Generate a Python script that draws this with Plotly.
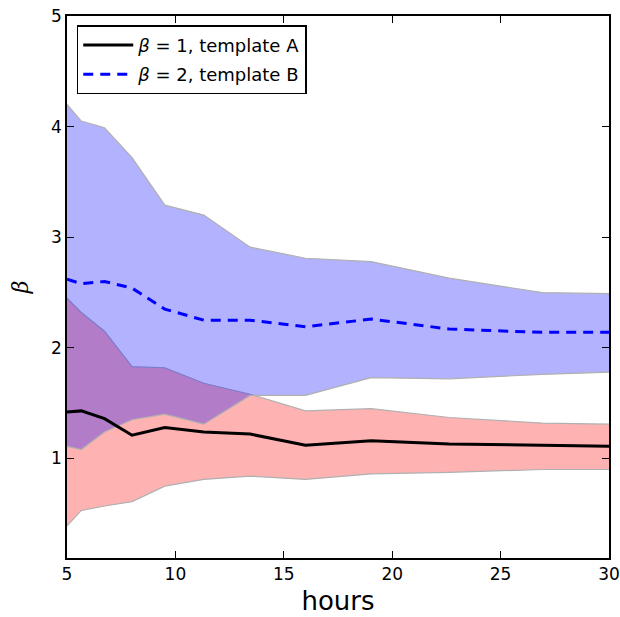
import plotly.graph_objects as go

hours = [5, 5.66, 6.73, 8, 9.51, 11.31, 13.45, 16, 19.03, 22.63, 26.91, 30]

mean_a = [1.42, 1.43, 1.36, 1.21, 1.28, 1.24, 1.22, 1.12, 1.16, 1.13, 1.12, 1.11]
upper_a = [2.45, 2.32, 2.15, 1.83, 1.82, 1.68, 1.58, 1.43, 1.45, 1.37, 1.32, 1.31]
lower_a = [0.39, 0.53, 0.57, 0.61, 0.75, 0.81, 0.84, 0.81, 0.86, 0.875, 0.90, 0.90]

mean_b = [2.62, 2.58, 2.60, 2.54, 2.35, 2.25, 2.25, 2.19, 2.26, 2.17, 2.14, 2.14]
upper_b = [4.20, 4.05, 3.99, 3.72, 3.29, 3.20, 2.91, 2.81, 2.78, 2.63, 2.50, 2.49]
lower_b = [1.11, 1.08, 1.24, 1.35, 1.40, 1.31, 1.57, 1.57, 1.73, 1.72, 1.76, 1.78]

x_ticks = [5, 10, 15, 20, 25, 30]
y_ticks = [1, 2, 3, 4, 5]

label_a = "<i>β</i> = 1, template A"
label_b = "<i>β</i> = 2, template B"

edge = "#b0b0b0"

fig = go.Figure()


def add_band(upper, lower, fillcolor):
    fig.add_trace(go.Scatter(
        x=hours + hours[::-1], y=upper + lower[::-1],
        fill="toself", fillcolor=fillcolor,
        line=dict(width=0), mode="lines",
        showlegend=False, hoverinfo="skip"))
    for edge_vals in (upper, lower):
        fig.add_trace(go.Scatter(
            x=hours, y=edge_vals, mode="lines",
            line=dict(color=edge, width=1.2),
            showlegend=False, hoverinfo="skip"))


# red band (template A) drawn first, blue band on top
add_band(upper_a, lower_a, "rgba(255,0,0,0.3)")
add_band(upper_b, lower_b, "rgba(0,0,255,0.3)")

fig.add_trace(go.Scatter(
    x=hours, y=mean_a, mode="lines", name=label_a, legendgroup="a",
    line=dict(color="black", width=3)))
fig.add_trace(go.Scatter(
    x=hours, y=mean_b, mode="lines", name=label_b, legendgroup="b",
    line=dict(color="blue", width=3, dash="10px,7px")))

axis_common = dict(
    showline=True, linecolor="black", linewidth=1.5, mirror="ticks",
    ticks="inside", ticklen=7, tickwidth=1, tickcolor="black",
    showgrid=False, zeroline=False, automargin=False,
    tickfont=dict(family="DejaVu Sans", size=17, color="black"),
)

fig.update_layout(
    width=620, height=617,
    margin=dict(l=67, r=11, t=16, b=59),
    paper_bgcolor="white", plot_bgcolor="white",
    font=dict(family="DejaVu Sans", color="black"),
    xaxis=dict(range=[5, 30], tickvals=x_ticks,
               title=dict(text="hours", font=dict(size=26), standoff=9),
               **axis_common),
    yaxis=dict(range=[0.1, 5], tickvals=y_ticks,
               title=dict(text="<i>β</i>", font=dict(size=22, family="DejaVu Serif"), standoff=16),
               **axis_common),
    legend=dict(x=0.018, y=0.983, xanchor="left", yanchor="top",
                bgcolor="white", bordercolor="black", borderwidth=1.5,
                font=dict(size=18, family="DejaVu Sans"),
                itemwidth=50, tracegroupgap=3),
)

fig.write_html("out.html",
               config={"displayModeBar": False},
               post_script="document.body.style.margin='0';document.body.style.overflow='hidden';")
